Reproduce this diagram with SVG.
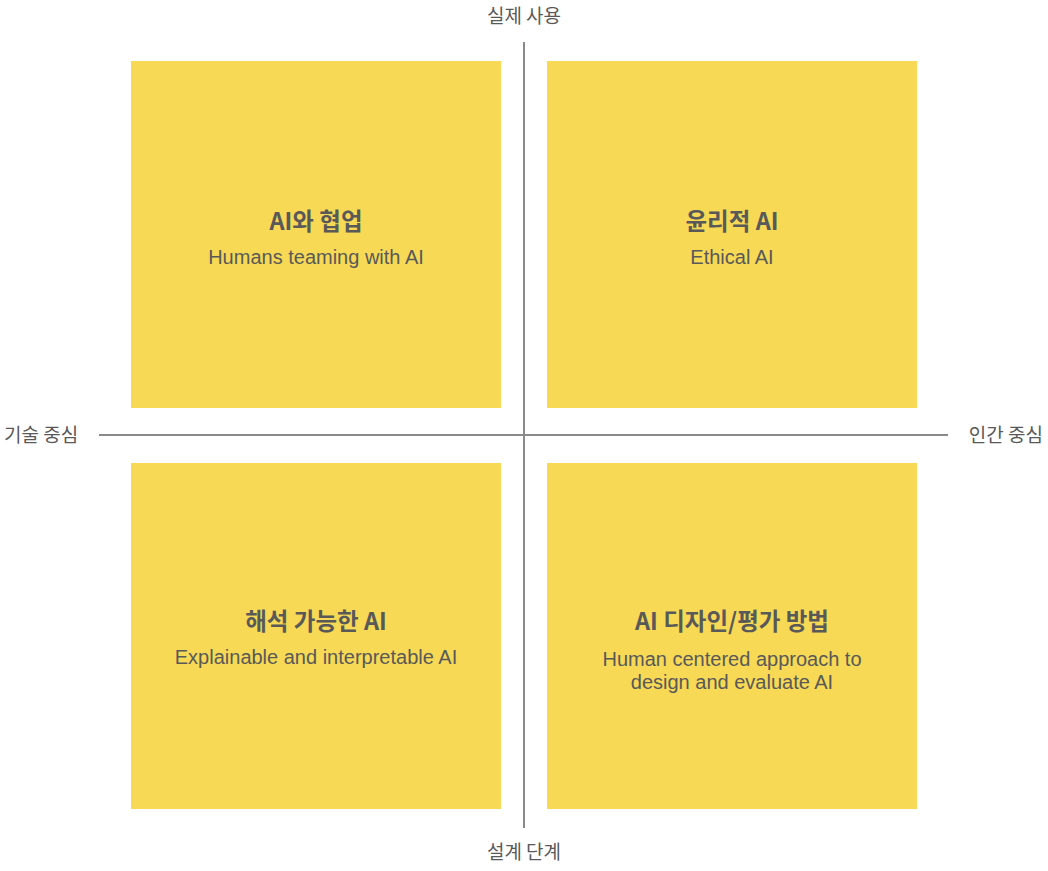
<svg xmlns="http://www.w3.org/2000/svg" width="1048" height="871" viewBox="0 0 1048 871">
<style>
.box{fill:#F7D955}
.t{font-family:"Noto Sans CJK KR","Liberation Sans",sans-serif;font-weight:700;font-size:23.5px;fill:#595959;text-anchor:middle}
.s{font-family:"Liberation Sans","Noto Sans CJK KR",sans-serif;font-size:20px;fill:#595959;text-anchor:middle}
.ax{font-family:"Noto Sans CJK KR","Liberation Sans",sans-serif;font-size:19px;fill:#595959}
.line{stroke:#8a8a8a;stroke-width:2;fill:none}
</style>
<rect width="1048" height="871" fill="#ffffff"/>
<g id="connectors">
<line class="line" x1="524" y1="42" x2="524" y2="828"/>
<line class="line" x1="99" y1="435" x2="948" y2="435"/>
</g>
<g id="axis-labels">
<text class="ax" x="524" y="23" text-anchor="middle">실제 사용</text>
<text class="ax" x="524" y="859" text-anchor="middle">설계 단계</text>
<text class="ax" x="4" y="442">기술 중심</text>
<text class="ax" x="1043" y="442" text-anchor="end">인간 중심</text>
</g>
<g id="q1">
<rect class="box" x="131" y="61" width="370" height="347"/>
<text class="t" x="316" y="230">AI와 협업</text>
<text class="s" x="316" y="264">Humans teaming with AI</text>
</g>
<g id="q2">
<rect class="box" x="547" y="61" width="370" height="347"/>
<text class="t" x="732" y="230">윤리적 AI</text>
<text class="s" x="732" y="264">Ethical AI</text>
</g>
<g id="q3">
<rect class="box" x="131" y="463" width="370" height="346"/>
<text class="t" x="316" y="630">해석 가능한 AI</text>
<text class="s" x="316" y="664">Explainable and interpretable AI</text>
</g>
<g id="q4">
<rect class="box" x="547" y="463" width="370" height="346"/>
<text class="t" x="732" y="630">AI 디자인/평가 방법</text>
<text class="s" x="732" y="666">Human centered approach to</text>
<text class="s" x="732" y="689">design and evaluate AI</text>
</g>
</svg>
